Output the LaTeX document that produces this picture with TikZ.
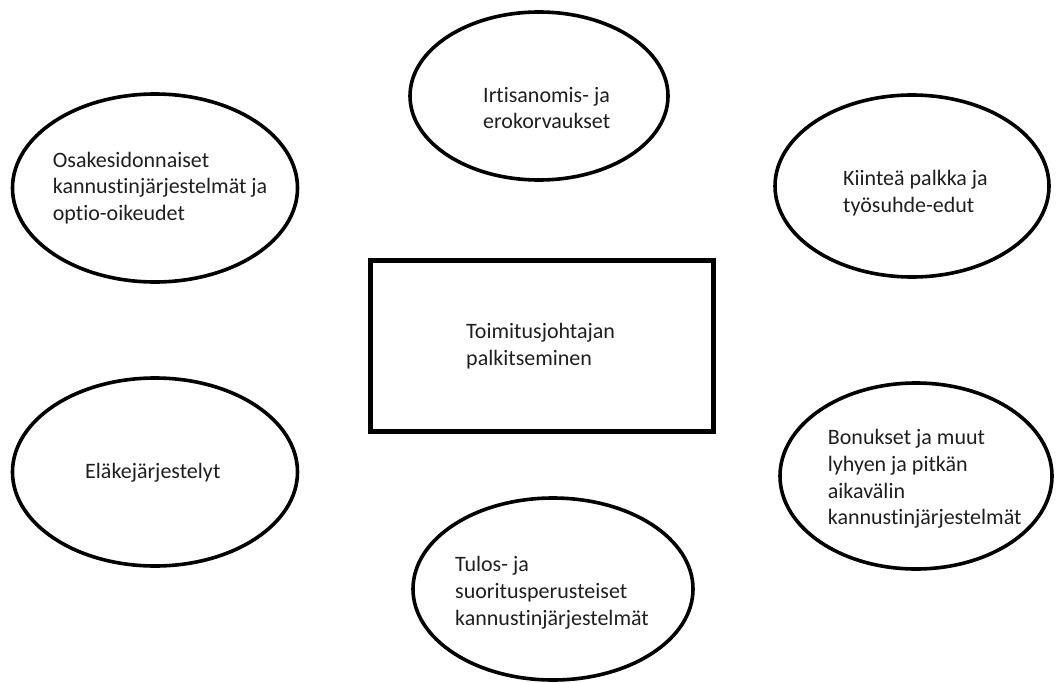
\documentclass[tikz,border=0pt]{standalone}
\usepackage{fontspec}
\setmainfont{Carlito}[Ligatures={TeX,NoCommon}]
\usetikzlibrary{shapes.geometric}
\tikzset{
  oval/.style={ellipse, draw=black, line width=3.6pt, inner sep=0pt},
  box/.style={rectangle, draw=black, line width=4.8pt, inner sep=0pt},
  txt/.style={align=left, anchor=west, text=black!88, font=\fontsize{22}{26.8}\selectfont, inner sep=0pt}
}
\begin{document}
\begin{tikzpicture}[x=1pt,y=-1pt]
\useasboundingbox (0,0) rectangle (1056,682);
\node[oval, minimum width=285pt, minimum height=188pt] (osake) at (155,188) {};
\node[txt] (osaket) at (52.7,188) {Osakesidonnaiset\\kannustinjärjestelmät ja\\optio-oikeudet};
\node[oval, minimum width=258pt, minimum height=168pt] (irti) at (539,96) {};
\node[txt] (irtit) at (483,108) {Irtisanomis- ja\\erokorvaukset};
\node[oval, minimum width=274pt, minimum height=182pt] (kiin) at (912,186) {};
\node[txt] (kiint) at (843,193) {Kiinteä palkka ja\\työsuhde-edut};
\node[box, minimum width=343pt, minimum height=171pt] (toim) at (542,346) {};
\node[txt] (toimt) at (466,346) {Toimitusjohtajan\\palkitseminen};
\node[oval, minimum width=272pt, minimum height=186pt] (bonu) at (916,476) {};
\node[txt] (bonut) at (827.7,479) {Bonukset ja muut\\lyhyen ja pitkän\\aikavälin\\kannustinjärjestelmät};
\node[oval, minimum width=280pt, minimum height=182pt] (tulo) at (553,589) {};
\node[txt] (tulot) at (455,593) {Tulos- ja\\suoritusperusteiset\\kannustinjärjestelmät};
\node[oval, minimum width=285pt, minimum height=188pt] (elak) at (155,472) {};
\node[txt] (elakt) at (85,472.6) {Eläkejärjestelyt};
\end{tikzpicture}
\end{document}
